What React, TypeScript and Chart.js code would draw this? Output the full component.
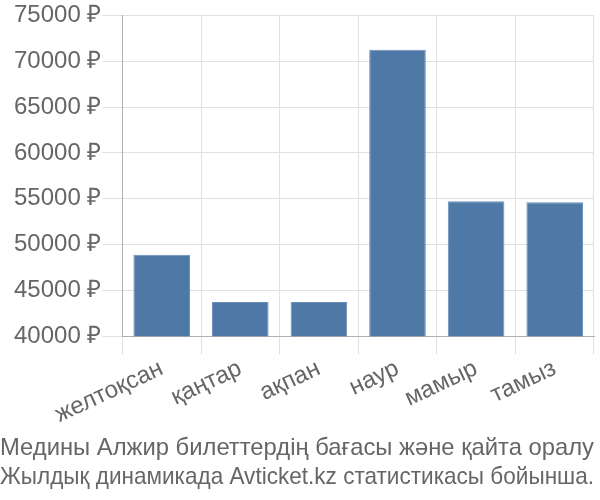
import React, { useEffect, useRef } from "react";
import { Chart, registerables } from "chart.js";

Chart.register(...registerables);

const categories = ["желтоқсан", "қаңтар", "ақпан", "наур", "мамыр", "тамыз"];
const prices = [48900, 43750, 43750, 71250, 54730, 54620];
const titleLines = [
  "Медины Алжир билеттердің бағасы және қайта оралу",
  "Жылдық динамикада Avticket.kz статистикасы бойынша.",
];

export default function App() {
  const ref = useRef<HTMLCanvasElement | null>(null);
  useEffect(() => {
    if (!ref.current) return;
    const font = { family: "'Liberation Sans', Arial, sans-serif", size: 24 };
    const chart = new Chart(ref.current, {
      type: "bar",
      data: {
        labels: categories,
        datasets: [
          {
            data: prices,
            backgroundColor: "#4e79a7",
            borderColor: "#6a8fb8",
            borderWidth: 1,
          },
        ],
      },
      options: {
        animation: false,
        responsive: true,
        maintainAspectRatio: false,
        layout: { padding: { left: 0, right: 6, top: 0, bottom: 0 } },
        plugins: {
          legend: { display: false },
          tooltip: { enabled: false },
          title: {
            display: true,
            position: "bottom",
            text: titleLines,
            color: "#666",
            font: { ...font, weight: "normal" },
            padding: { top: 5, bottom: 8 },
          },
        },
        scales: {
          x: {
            grid: { color: "#e0e0e0", tickLength: 18 },
            border: { color: "#b0b0b0" },
            ticks: { color: "#666", font, minRotation: 25, maxRotation: 25, padding: 0 },
          },
          y: {
            min: 40000,
            max: 75000,
            afterFit: (scale: any) => {
              scale.width += 13;
            },
            grid: { color: "#e0e0e0", tickLength: 20 },
            border: { color: "#b0b0b0" },
            ticks: {
              color: "#666",
              font,
              stepSize: 5000,
              padding: 1,
              callback: (v: any) => `${v} ₽`,
            },
          },
        },
      },
    });
    return () => chart.destroy();
  }, []);
  return (
    <div style={{ position: "absolute", left: 0, top: 0, width: 600, height: 500 }}>
      <canvas ref={ref} />
    </div>
  );
}
